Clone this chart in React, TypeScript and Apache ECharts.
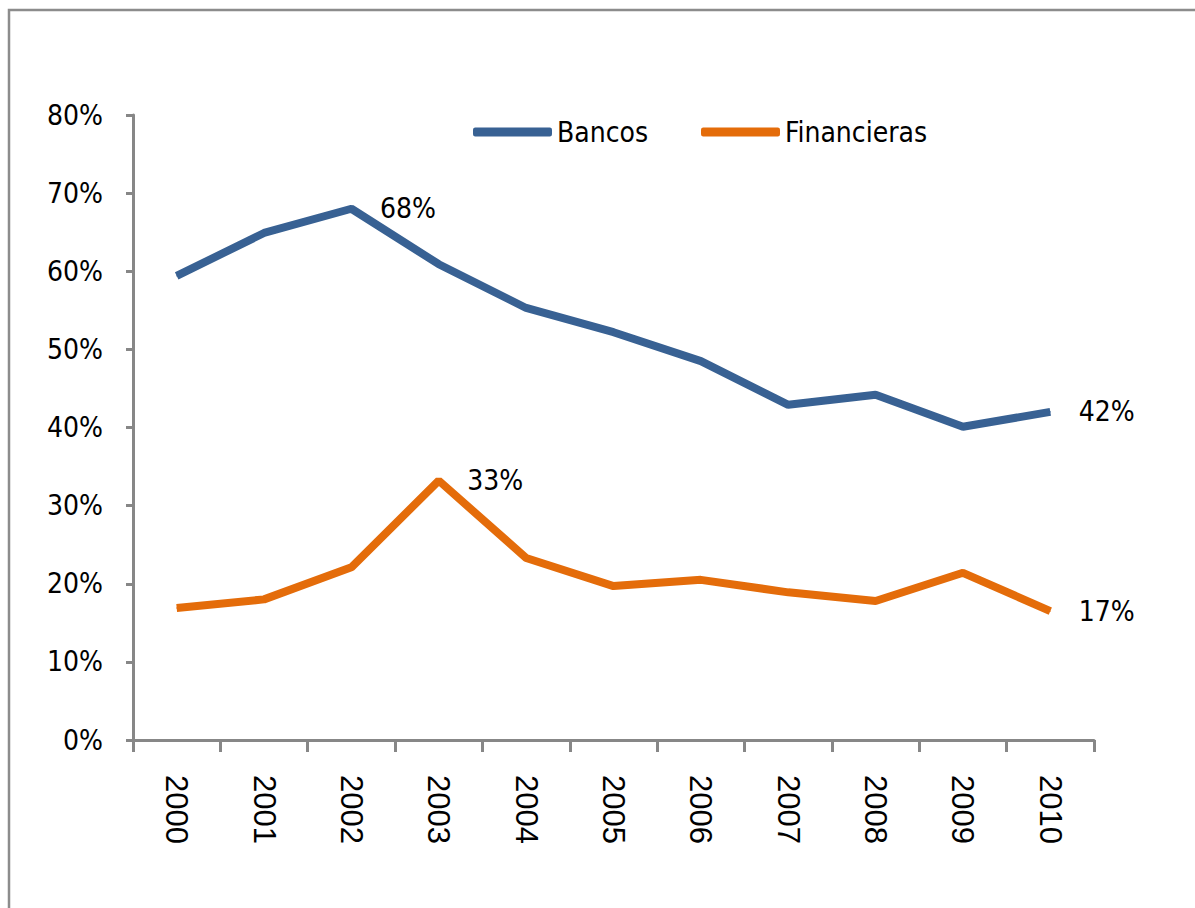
import React, { useEffect, useRef } from "react";
import * as echarts from "echarts";

const years = ["2000", "2001", "2002", "2003", "2004", "2005", "2006", "2007", "2008", "2009", "2010"];
const bancos = [59.4, 64.9, 68.0, 60.9, 55.3, 52.2, 48.5, 42.9, 44.2, 40.1, 42.0];
const financieras = [16.9, 18.0, 22.1, 33.2, 23.3, 19.7, 20.5, 18.9, 17.8, 21.4, 16.5];
const bancosLabeled = [2, 10];
const financierasLabeled = [3, 10];
const yTicks = [0, 10, 20, 30, 40, 50, 60, 70, 80];

const NARROW = "'Liberation Sans Narrow', 'DejaVu Sans Condensed', 'Arial Narrow', sans-serif";
const BLUE = "#386193";
const ORANGE = "#e46c0a";
const GRAY = "#878787";

export default function App() {
  const ref = useRef<HTMLDivElement>(null);
  useEffect(() => {
    if (!ref.current) return;
    const chart = echarts.init(ref.current, null, { renderer: "svg" });
    const mk = (vals: number[], labeled: number[]) =>
      vals.map((v, i) => ({
        value: v,
        label: {
          show: labeled.includes(i),
          position: "right",
          distance: 28,
          formatter: () => Math.round(v) + "%",
          fontFamily: NARROW,
          fontSize: 28,
          color: "#000",
        },
      }));
    const legendBase = {
      top: 118,
      padding: 0,
      itemWidth: 79,
      itemHeight: 9,
      icon: "roundRect",
      textStyle: { fontFamily: NARROW, fontSize: 28, color: "#000" },
    };
    chart.setOption({
      animation: false,
      backgroundColor: "#fff",
      graphic: [
        {
          type: "rect",
          shape: { x: 9, y: 10, width: 1300, height: 1000 },
          style: { fill: "none", stroke: "#8c8c8c", lineWidth: 2.5 },
          silent: true,
        },
      ],
      legend: [
        { ...legendBase, left: 473, data: ["Bancos"] },
        { ...legendBase, left: 701, data: ["Financieras"] },
      ],
      grid: { left: 133, top: 115, width: 961, height: 625, containLabel: false },
      xAxis: {
        type: "category",
        data: years,
        boundaryGap: true,
        axisLine: { show: true, lineStyle: { color: GRAY, width: 3 } },
        axisTick: { show: true, inside: false, length: 12, alignWithLabel: false, lineStyle: { color: GRAY, width: 3 } },
        axisLabel: {
          rotate: -90,
          margin: 35,
          fontFamily: "'Liberation Sans', Arial, sans-serif",
          fontSize: 31,
          color: "#000",
          interval: 0,
        },
        splitLine: { show: false },
      },
      yAxis: {
        type: "value",
        min: yTicks[0],
        max: yTicks[yTicks.length - 1],
        interval: 10,
        axisLine: { show: true, lineStyle: { color: GRAY, width: 3 } },
        axisTick: { show: true, length: 7, lineStyle: { color: GRAY, width: 3 } },
        axisLabel: {
          formatter: (v: number) => v + "%",
          margin: 30,
          fontFamily: NARROW,
          fontSize: 28,
          color: "#000",
        },
        splitLine: { show: false },
      },
      series: [
        {
          name: "Bancos",
          type: "line",
          data: mk(bancos, bancosLabeled),
          symbol: "circle",
          symbolSize: 1,
          itemStyle: { color: BLUE },
          lineStyle: { color: BLUE, width: 8 },
        },
        {
          name: "Financieras",
          type: "line",
          data: mk(financieras, financierasLabeled),
          symbol: "circle",
          symbolSize: 1,
          itemStyle: { color: ORANGE },
          lineStyle: { color: ORANGE, width: 8 },
        },
      ],
    });
    return () => chart.dispose();
  }, []);
  return (
    <div
      ref={ref}
      style={{ position: "absolute", left: 0, top: 0, width: 1195, height: 908 }}
    />
  );
}
